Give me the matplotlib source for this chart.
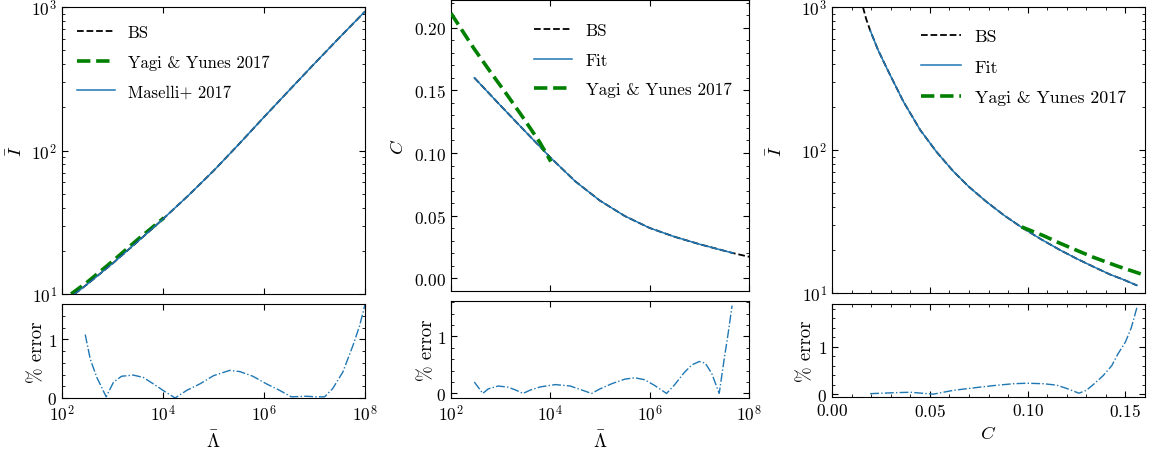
import numpy as np
import matplotlib
matplotlib.use('Agg')
import matplotlib.pyplot as plt
from matplotlib.ticker import AutoMinorLocator, NullLocator, FixedLocator

plt.rcParams['font.family'] = 'serif'
plt.rcParams['font.serif'] = ['cmr10']
plt.rcParams['mathtext.fontset'] = 'cm'
plt.rcParams['axes.formatter.use_mathtext'] = True
plt.rcParams['font.size'] = 12.5
plt.rcParams['axes.labelsize'] = 13.5
plt.rcParams['axes.unicode_minus'] = False

azul = '#1f77b4'

# ---- panel 1: I vs Lambda ----
lam1_exp = [2.25, 2.5, 3.0, 3.5, 4.0, 4.5, 5.0, 5.5, 6.0, 6.5, 7.0, 7.5, 8.0]
I1_bs = [10.0, 11.7, 16.3, 23.2, 33.3, 48.5, 72.1, 110.4, 171.0, 263.0,
         403.6, 615.2, 931.0]
I1_mas = I1_bs
lam1_yy_exp = [2.18, 2.5, 3.0, 3.5, 4.02]
I1_yy = [10.0, 12.1, 16.9, 24.0, 34.0]

err1_exp = [2.46, 2.56, 2.69, 2.875, 3.02, 3.18, 3.41, 3.61, 3.81, 4.0,
            4.24, 4.47, 4.73, 5.0, 5.32, 5.52, 5.78, 6.05, 6.31, 6.54,
            6.84, 7.03, 7.2, 7.36, 7.56, 7.76, 7.89, 8.0]
err1 = [1.08, 0.66, 0.35, 0.02, 0.27, 0.37, 0.39, 0.35, 0.24, 0.13,
        0.0, 0.13, 0.24, 0.38, 0.47, 0.45, 0.37, 0.24, 0.13, 0.02,
        0.03, 0.02, 0.02, 0.16, 0.44, 0.89, 1.22, 1.59]

# ---- panel 2: C vs Lambda ----
lam2_exp = [2.47, 3.0, 3.5, 4.0, 4.5, 5.0, 5.5, 6.0, 6.5, 7.0, 7.68, 8.0]
C2_bs = [0.160, 0.1377, 0.1170, 0.0965, 0.0775, 0.0620, 0.04975, 0.04025,
         0.03325, 0.02735, 0.0202, 0.0173]
n_fit2 = 11
lam2_yy_exp = [2.0, 2.45, 2.78, 3.12, 3.45, 3.79, 4.01]
C2_yy = [0.2114, 0.184, 0.1654, 0.1469, 0.1283, 0.1084, 0.0932]

err2_exp = [2.47, 2.64, 2.75, 2.95, 3.15, 3.3, 3.45, 3.6, 3.8, 4.1,
            4.4, 4.6, 4.83, 5.0, 5.25, 5.5, 5.7, 5.9, 6.1, 6.34,
            6.5, 6.7, 6.85, 7.0, 7.12, 7.25, 7.40, 7.5, 7.58, 7.66]
err2 = [0.20, 0.0, 0.08, 0.13, 0.11, 0.06, 0.0, 0.06, 0.115, 0.155,
        0.13, 0.07, 0.0, 0.08, 0.175, 0.25, 0.275, 0.24, 0.14, 0.0,
        0.15, 0.37, 0.50, 0.56, 0.53, 0.35, 0.0, 0.6, 1.05, 1.54]

# ---- panel 3: I vs C ----
C3_bs = [0.0158, 0.0175, 0.0195, 0.0235, 0.0281, 0.0365, 0.0451, 0.0536, 0.062,
         0.070, 0.079, 0.088, 0.0969, 0.107, 0.1165, 0.125, 0.1335, 0.142,
         0.149, 0.1559]
I3_bs = [1000.0, 822.0, 687.0, 502.0, 371.0, 218.0, 138.0, 96.4, 71.0,
         55.3, 43.4, 34.9, 28.8, 23.7, 20.0, 17.4, 15.3, 13.5,
         12.4, 11.3]
i_fit3 = 2
C3_yy = [0.0969, 0.108, 0.1165, 0.125, 0.1335, 0.146, 0.16]
I3_yy = [29.0, 25.2, 22.3, 19.9, 17.8, 15.4, 13.3]

err3_C = [0.0195, 0.0314, 0.040, 0.0518, 0.062, 0.074, 0.0825, 0.0927, 0.0995,
          0.108, 0.1148, 0.120, 0.1262, 0.1300, 0.1335, 0.1386, 0.1430, 0.1462,
          0.150, 0.153, 0.1559]
err3 = [0.01, 0.03, 0.04, 0.0, 0.08, 0.14, 0.18, 0.22, 0.23,
        0.22, 0.19, 0.12, 0.02, 0.08, 0.20, 0.39, 0.60, 0.85,
        1.10, 1.40, 1.83]

W, H = 1150, 452
fig = plt.figure(figsize=(W / 100, H / 100), dpi=100)


def ejes(x0, x1, y0, y1):
    # caja en pixeles (desde arriba) -> fraccion de figura
    return fig.add_axes([x0 / W, (H - y1) / H, (x1 - x0) / W, (y1 - y0) / H])


def estilo(ax):
    ax.tick_params(which='both', direction='in', top=True, right=True)
    ax.tick_params(which='major', length=4.5, width=0.8)
    ax.tick_params(which='minor', length=2.5, width=0.6)


def ejex_log(ax):
    ax.set_xscale('log')
    ax.set_xlim(1e2, 1e8)
    ax.xaxis.set_major_locator(FixedLocator([1e2, 1e4, 1e6, 1e8]))
    ax.xaxis.set_minor_locator(NullLocator())


leg = dict(frameon=False, handlelength=2.25, labelspacing=0.85)

# panel 1
a1 = ejes(62, 365, 8, 295)
b1 = ejes(62, 365, 305, 399)
lam1 = 10 ** np.array(lam1_exp)
a1.plot(lam1, I1_bs, '--', color='k', lw=1.3, label='BS', zorder=3)
a1.plot(10 ** np.array(lam1_yy_exp), I1_yy, '--', color='green', lw=2.6,
        label='Yagi & Yunes 2017', zorder=2)
a1.plot(lam1, I1_mas, '-', color=azul, lw=1.1, label='Maselli+ 2017', zorder=4)
ejex_log(a1)
a1.set_yscale('log')
a1.set_ylim(10, 1000)
a1.set_xticklabels([])
a1.set_ylabel(r'$\bar{I}$')
a1.yaxis.set_label_coords(-0.122, 0.5)
a1.legend(loc='upper left', bbox_to_anchor=(0.0, 0.99), fontsize=12.0, **leg)

b1.plot(10 ** np.array(err1_exp), err1, '-.', color=azul, lw=1.0)
ejex_log(b1)
b1.set_ylim(0, 1.6)
b1.set_yticks([0, 1])
b1.yaxis.set_minor_locator(AutoMinorLocator(5))
b1.set_ylabel('% error')
b1.yaxis.set_label_coords(-0.053, 0.5)
b1.set_xlabel(r'$\bar{\Lambda}$')

# panel 2
a2 = ejes(451, 749, 1, 292)
b2 = ejes(451, 749, 302, 399)
lam2 = 10 ** np.array(lam2_exp)
a2.plot(lam2, C2_bs, '--', color='k', lw=1.3, label='BS', zorder=3)
a2.plot(lam2[:n_fit2], C2_bs[:n_fit2], '-', color=azul, lw=1.1, label='Fit', zorder=4)
a2.plot(10 ** np.array(lam2_yy_exp), C2_yy, '--', color='green', lw=2.6,
        label='Yagi & Yunes 2017', zorder=5)
ejex_log(a2)
a2.set_ylim(-0.01, 0.222)
a2.set_yticks([0.0, 0.05, 0.10, 0.15, 0.20])
a2.yaxis.set_minor_locator(AutoMinorLocator(5))
a2.set_xticklabels([])
a2.set_ylabel(r'$C$')
a2.yaxis.set_label_coords(-0.147, 0.5)
a2.legend(loc='upper right', bbox_to_anchor=(0.993, 0.976), fontsize=12.3, **leg)

b2.plot(10 ** np.array(err2_exp), err2, '-.', color=azul, lw=1.0)
ejex_log(b2)
b2.set_ylim(-0.08, 1.62)
b2.set_yticks([0, 1])
b2.yaxis.set_minor_locator(AutoMinorLocator(5))
b2.set_ylabel('% error')
b2.yaxis.set_label_coords(-0.050, 0.5)
b2.set_xlabel(r'$\bar{\Lambda}$')

# panel 3
a3 = ejes(832, 1145, 8, 294)
b3 = ejes(832, 1145, 305, 398)
a3.plot(C3_bs, I3_bs, '--', color='k', lw=1.3, label='BS', zorder=3)
a3.plot(C3_bs[i_fit3:], I3_bs[i_fit3:], '-', color=azul, lw=1.1, label='Fit', zorder=4)
a3.plot(C3_yy, I3_yy, '--', color='green', lw=2.6, label='Yagi & Yunes 2017', zorder=5)
a3.set_xlim(0, 0.16)
a3.set_xticks([0.0, 0.05, 0.10, 0.15])
a3.xaxis.set_minor_locator(AutoMinorLocator(5))
a3.set_yscale('log')
a3.set_ylim(10, 1000)
a3.set_xticklabels([])
a3.set_ylabel(r'$\bar{I}$')
a3.yaxis.set_label_coords(-0.150, 0.5)
a3.legend(loc='upper right', bbox_to_anchor=(0.99, 0.98), fontsize=12.8, **leg)

b3.plot(err3_C, err3, '-.', color=azul, lw=1.0)
b3.set_xlim(0, 0.16)
b3.set_xticks([0.0, 0.05, 0.10, 0.15])
b3.xaxis.set_minor_locator(AutoMinorLocator(5))
b3.set_ylim(-0.06, 1.9)
b3.set_yticks([0, 1])
b3.yaxis.set_minor_locator(AutoMinorLocator(5))
b3.set_ylabel('% error')
b3.yaxis.set_label_coords(-0.054, 0.5)
b3.set_xlabel(r'$C$')

for ax in (a1, b1, a2, b2, a3, b3):
    estilo(ax)

fig.savefig('out.png', dpi=100)
